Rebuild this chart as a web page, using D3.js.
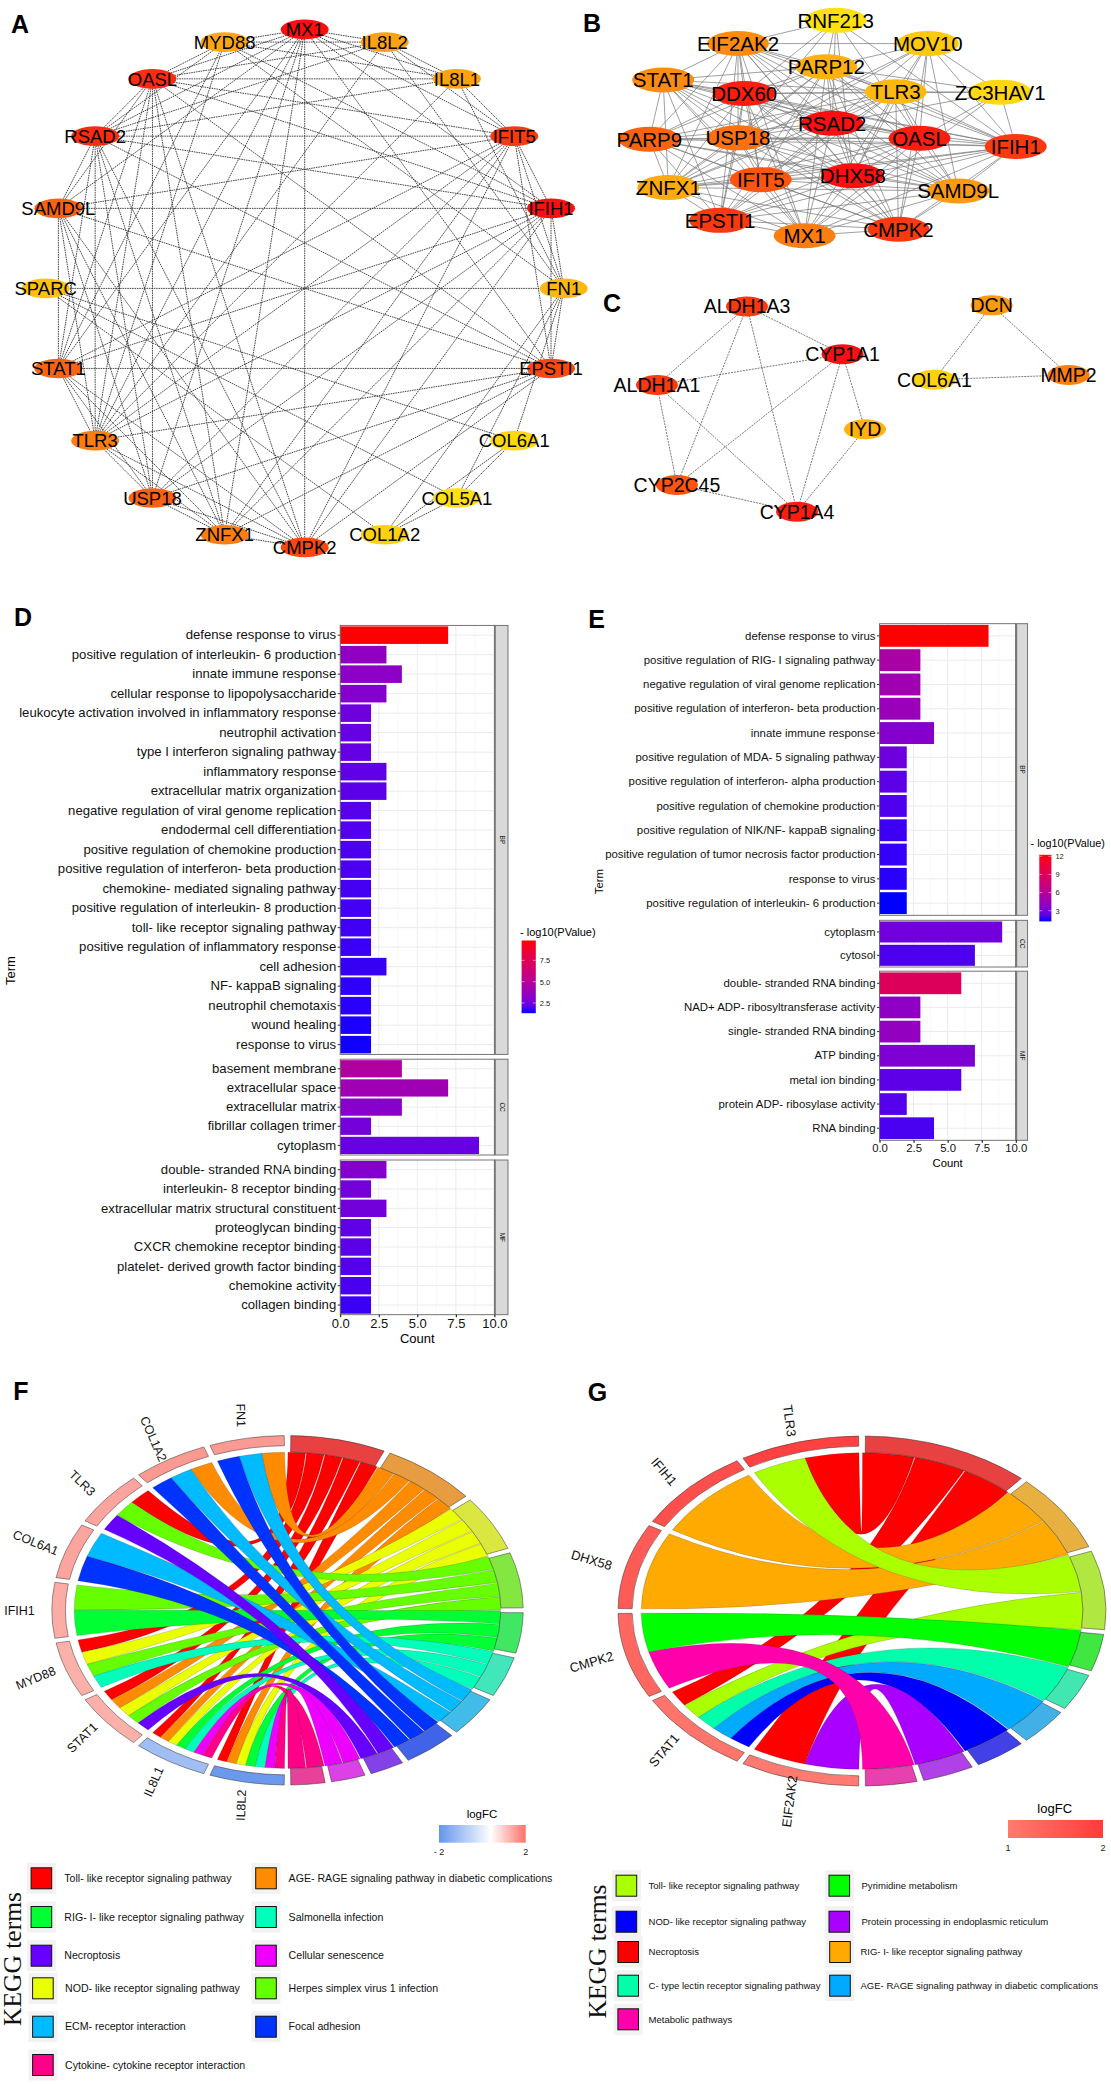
<!DOCTYPE html>
<html>
<head>
<meta charset="utf-8">
<title>Hub genes, GO and KEGG</title>
<script src="https://cdn.jsdelivr.net/npm/d3@7/dist/d3.min.js"></script>
<style>
  body { margin: 0; background: #fff; }
  svg { display: block; font-family: "Liberation Sans", Arial, sans-serif; }
  .ns { vector-effect: non-scaling-stroke; }
</style>
</head>
<body>
<div id="chart"></div>
<script>
// panel A: circle layout, genes clockwise from the top
const aGenes = ["MX1", "IL8L2", "IL8L1", "IFIT5", "IFIH1", "FN1", "EPSTI1", "COL6A1", "COL5A1", "COL1A2",
  "CMPK2", "ZNFX1", "USP18", "TLR3", "STAT1", "SPARC", "SAMD9L", "RSAD2", "OASL", "MYD88"];
const aScore = [1, 0.45, 0.45, 0.85, 1, 0.3, 0.8, 0.1, 0.05, 0.15, 0.8, 0.6, 0.7, 0.6, 0.7, 0.25, 0.7, 0.9, 0.9, 0.42];
const aCore = ["MX1", "IFIT5", "IFIH1", "EPSTI1", "CMPK2", "ZNFX1", "USP18", "TLR3", "STAT1", "SAMD9L", "RSAD2", "OASL"];
const aExtraEdges = [
  ["MYD88", "MX1"], ["MYD88", "IL8L2"], ["MYD88", "IL8L1"], ["MYD88", "OASL"], ["MYD88", "RSAD2"], ["MYD88", "IFIH1"],
  ["MYD88", "STAT1"], ["MYD88", "TLR3"], ["MYD88", "FN1"], ["IL8L2", "MX1"], ["IL8L2", "IL8L1"], ["IL8L2", "OASL"],
  ["IL8L2", "RSAD2"], ["IL8L2", "FN1"], ["IL8L2", "TLR3"], ["IL8L2", "IFIT5"], ["IL8L1", "MX1"], ["IL8L1", "IFIT5"],
  ["IL8L1", "OASL"], ["IL8L1", "RSAD2"], ["IL8L1", "TLR3"], ["IL8L1", "FN1"], ["SPARC", "FN1"], ["SPARC", "COL6A1"],
  ["SPARC", "COL5A1"], ["SPARC", "COL1A2"], ["FN1", "COL6A1"], ["FN1", "COL5A1"], ["FN1", "COL1A2"], ["FN1", "IFIT5"],
  ["FN1", "IFIH1"], ["COL6A1", "COL5A1"], ["COL6A1", "COL1A2"], ["COL5A1", "COL1A2"], ["FN1", "EPSTI1"]
];

// panel B: layout, in layout units
const bGenes = ["RNF213", "EIF2AK2", "MOV10", "PARP12", "STAT1", "TLR3", "ZC3HAV1", "DDX60", "RSAD2", "OASL",
  "IFIH1", "PARP9", "USP18", "IFIT5", "DHX58", "ZNFX1", "SAMD9L", "EPSTI1", "MX1", "CMPK2"];
const bLayoutX = [770, 487, 1037, 743, 270, 944, 1247, 505, 760, 1013, 1292, 230, 487, 553, 820, 285, 1125, 435, 680, 952];
const bLayoutY = [57, 122, 122, 187, 224, 257, 258, 262, 345, 387, 410, 390, 386, 503, 492, 525, 535, 617, 660, 642];
const bScore = [0.05, 0.55, 0.2, 0.35, 0.55, 0.3, 0.1, 0.95, 1, 0.95, 0.85, 0.7, 0.65, 0.75, 1, 0.4, 0.5, 0.85, 0.6, 0.85];
const bCore = ["EIF2AK2", "PARP12", "STAT1", "TLR3", "DDX60", "RSAD2", "OASL", "IFIH1", "PARP9", "USP18", "IFIT5",
  "DHX58", "ZNFX1", "SAMD9L", "EPSTI1", "MX1", "CMPK2"];
const bExtraEdges = [
  ["RNF213", "EIF2AK2"], ["RNF213", "PARP12"], ["RNF213", "DDX60"], ["RNF213", "USP18"], ["RNF213", "RSAD2"],
  ["RNF213", "OASL"], ["RNF213", "IFIH1"], ["RNF213", "DHX58"], ["MOV10", "EIF2AK2"], ["MOV10", "PARP12"],
  ["MOV10", "TLR3"], ["MOV10", "RSAD2"], ["MOV10", "OASL"], ["MOV10", "IFIH1"], ["MOV10", "SAMD9L"], ["MOV10", "ZC3HAV1"],
  ["MOV10", "DHX58"], ["MOV10", "CMPK2"], ["MOV10", "USP18"], ["MOV10", "ZNFX1"], ["ZC3HAV1", "TLR3"], ["ZC3HAV1", "OASL"],
  ["ZC3HAV1", "IFIH1"], ["ZC3HAV1", "RSAD2"], ["ZC3HAV1", "PARP12"], ["ZC3HAV1", "DDX60"], ["ZC3HAV1", "MX1"]
];

// panel C
const cGenes = ["ALDH1A3", "CYP1A1", "ALDH1A1", "IYD", "CYP2C45", "CYP1A4", "DCN", "COL6A1", "MMP2"];
const cLayoutX = [513, 790, 252, 855, 310, 658, 1222, 1056, 1445];
const cLayoutY = [858, 992, 1078, 1202, 1358, 1433, 855, 1063, 1050];
const cScore = [0.85, 1, 0.85, 0.35, 0.75, 0.95, 0.5, 0.15, 0.6];
const cEdges = [
  ["ALDH1A3", "ALDH1A1"], ["ALDH1A3", "CYP1A1"], ["ALDH1A3", "CYP2C45"], ["ALDH1A3", "CYP1A4"], ["ALDH1A1", "CYP1A1"],
  ["ALDH1A1", "CYP2C45"], ["ALDH1A1", "CYP1A4"], ["CYP1A1", "CYP2C45"], ["CYP1A1", "CYP1A4"], ["CYP1A1", "IYD"],
  ["IYD", "CYP1A4"], ["CYP2C45", "CYP1A4"], ["DCN", "COL6A1"], ["DCN", "MMP2"], ["COL6A1", "MMP2"]
];

// panel D: GO terms
const dTermsBP = ["defense response to virus", "positive regulation of interleukin- 6 production", "innate immune response",
  "cellular response to lipopolysaccharide", "leukocyte activation involved in inflammatory response", "neutrophil activation",
  "type I interferon signaling pathway", "inflammatory response", "extracellular matrix organization",
  "negative regulation of viral genome replication", "endodermal cell differentiation", "positive regulation of chemokine production",
  "positive regulation of interferon- beta production", "chemokine- mediated signaling pathway",
  "positive regulation of interleukin- 8 production", "toll- like receptor signaling pathway",
  "positive regulation of inflammatory response", "cell adhesion", "NF- kappaB signaling", "neutrophil chemotaxis",
  "wound healing", "response to virus"];
const dCountBP = [7, 3, 4, 3, 2, 2, 2, 3, 3, 2, 2, 2, 2, 2, 2, 2, 2, 3, 2, 2, 2, 2];
const dLogPBP = [9.83, 3.4, 3.26, 3.0, 2.45, 2.28, 2.24, 2.13, 2.07, 1.98, 1.9, 1.81, 1.8, 1.73, 1.69, 1.66, 1.6, 1.56, 1.49, 1.45, 1.38, 1.34];
const dTermsCC = ["basement membrane", "extracellular space", "extracellular matrix", "fibrillar collagen trimer", "cytoplasm"];
const dCountCC = [4, 7, 4, 2, 9];
const dLogPCC = [4.7, 3.94, 3.1, 2.58, 2.28];
const dTermsMF = ["double- stranded RNA binding", "interleukin- 8 receptor binding", "extracellular matrix structural constituent",
  "proteoglycan binding", "CXCR chemokine receptor binding", "platelet- derived growth factor binding", "chemokine activity", "collagen binding"];
const dCountMF = [3, 2, 3, 2, 2, 2, 2, 2];
const dLogPMF = [3.0, 2.58, 2.54, 2.15, 2.07, 1.94, 1.77, 1.6];

// panel E: GO terms
const eTermsBP = ["defense response to virus", "positive regulation of RIG- I signaling pathway",
  "negative regulation of viral genome replication", "positive regulation of interferon- beta production", "innate immune response",
  "positive regulation of MDA- 5 signaling pathway", "positive regulation of interferon- alpha production",
  "positive regulation of chemokine production", "positive regulation of NIK/NF- kappaB signaling",
  "positive regulation of tumor necrosis factor production", "response to virus", "positive regulation of interleukin- 6 production"];
const eCountBP = [8, 3, 3, 3, 4, 2, 2, 2, 2, 2, 2, 2];
const eLogPBP = [12.25, 5.3, 4.76, 4.4, 3.5, 2.72, 2.25, 2.0, 1.67, 1.56, 1.43, 1.23];
const eTermsCC = ["cytoplasm", "cytosol"];
const eCountCC = [9, 7];
const eLogPCC = [2.8, 1.92];
const eTermsMF = ["double- stranded RNA binding", "NAD+ ADP- ribosyltransferase activity", "single- stranded RNA binding", "ATP binding",
  "metal ion binding", "protein ADP- ribosylase activity", "RNA binding"];
const eCountMF = [6, 3, 3, 7, 6, 2, 4];
const eLogPMF = [8.94, 3.93, 4.1, 3.27, 2.25, 2.11, 1.87];

// panel F: KEGG chord, terms clockwise from the top, genes counter-clockwise from the top
const fTerms = ["Toll- like receptor signaling pathway", "AGE- RAGE signaling pathway in diabetic complications",
  "NOD- like receptor signaling pathway", "Herpes simplex virus 1 infection", "RIG- I- like receptor signaling pathway",
  "Salmonella infection", "ECM- receptor interaction", "Focal adhesion", "Necroptosis", "Cellular senescence",
  "Cytokine- cytokine receptor interaction"];
const fColors = ["#ff0000", "#ff8c00", "#eaff00", "#66ff00", "#00ff33", "#00ffbb", "#00bbff", "#0033ff", "#6600ff", "#ee00ff", "#ff0088"];
const fGenes = ["FN1", "COL1A2", "TLR3", "COL6A1", "IFIH1", "MYD88", "STAT1", "IL8L1", "IL8L2"];
const fLogFC = [1.55, 1.55, 1.43, 1.43, 1.35, 1.3, 1.3, -1.07, -1.9];
const fGeneTerms = [[1, 6, 7], [1, 6, 7], [0, 3, 8], [6, 7], [3, 4], [0, 2, 3, 5], [0, 1, 2, 3, 8],
  [0, 1, 2, 4, 5, 9, 10], [0, 1, 2, 4, 5, 9, 10]];

// panel G: KEGG chord
const gTerms = ["Necroptosis", "RIG- I- like receptor signaling pathway", "Toll- like receptor signaling pathway", "Pyrimidine metabolism",
  "C- type lectin receptor signaling pathway", "AGE- RAGE signaling pathway in diabetic complications",
  "NOD- like receptor signaling pathway", "Protein processing in endoplasmic reticulum", "Metabolic pathways"];
const gColors = ["#ff0000", "#ffaa00", "#aaff00", "#00ff00", "#00ffaa", "#00aaff", "#0000ff", "#aa00ff", "#ff00aa"];
const gGenes = ["TLR3", "IFIH1", "DHX58", "CMPK2", "STAT1", "EIF2AK2"];
const gLogFC = [1.9, 1.7, 1.5, 1.3, 1.1, 1.0];
const gGeneTerms = [[0, 2], [1], [1], [3, 8], [0, 2, 4, 5, 6], [0, 7]];

// legend order of the KEGG terms
const fLegendCol1 = [0, 4, 8, 2, 6, 10];
const fLegendCol2 = [1, 5, 9, 3, 7];
const gLegendCol1 = [2, 6, 0, 4, 8];
const gLegendCol2 = [3, 7, 1, 5];

const width = 1111, height = 2084;
const svg = d3.select("#chart").append("svg").attr("width", width).attr("height", height);

const heat = d3.scaleLinear().domain([0, 0.5, 1]).range(["#ffe810", "#fe9a10", "#fa1010"]);

// every unordered pair of a gene list
function allPairs(list) {
  const out = [];
  list.forEach((a, i) => list.slice(i + 1).forEach((b) => out.push([a, b])));
  return out;
}

function drawNetwork(genes, score, edges, px, py, o) {
  const g = svg.append("g");
  const idx = new Map(genes.map((d, i) => [d, i]));
  g.selectAll("line").data(edges).enter().append("line")
    .attr("x1", (d) => px(idx.get(d[0]))).attr("y1", (d) => py(idx.get(d[0])))
    .attr("x2", (d) => px(idx.get(d[1]))).attr("y2", (d) => py(idx.get(d[1])))
    .attr("stroke", o.edge).attr("stroke-width", o.edgeWidth).attr("stroke-dasharray", o.dash);
  g.selectAll("ellipse").data(genes).enter().append("ellipse")
    .attr("cx", (d, i) => px(i)).attr("cy", (d, i) => py(i))
    .attr("rx", o.rx).attr("ry", o.ry).attr("fill", (d, i) => heat(score[i]));
  g.selectAll("text").data(genes).enter().append("text")
    .attr("x", (d, i) => px(i)).attr("y", (d, i) => py(i)).attr("dy", "0.36em")
    .attr("text-anchor", "middle").attr("font-size", o.font).attr("fill", "#000").text((d) => d);
}

// A
const aAngle = d3.scalePoint().domain(aGenes).range([0, 342]);
const aCx = 304.7, aCy = 288.4, aR = 259;
drawNetwork(aGenes, aScore, allPairs(aCore).concat(aExtraEdges),
  (i) => aCx + aR * Math.sin(aAngle(aGenes[i]) * Math.PI / 180),
  (i) => aCy - aR * Math.cos(aAngle(aGenes[i]) * Math.PI / 180),
  { edge: "#333", edgeWidth: 0.9, dash: "1.6 0.8", rx: 24, ry: 9.8, font: 18.5 });

// B and C share one layout scale
const netX = d3.scaleLinear().domain([0, 1568]).range([570, 1111]);
const netY = d3.scaleLinear().domain([0, 1568]).range([0, 560]);
drawNetwork(bGenes, bScore, allPairs(bCore).concat(bExtraEdges),
  (i) => netX(bLayoutX[i]), (i) => netY(bLayoutY[i]),
  { edge: "#777", edgeWidth: 0.7, dash: null, rx: 31, ry: 12.5, font: 20.5 });
drawNetwork(cGenes, cScore, cEdges,
  (i) => netX(cLayoutX[i]), (i) => netY(cLayoutY[i]),
  { edge: "#555", edgeWidth: 0.8, dash: "2 1", rx: 21, ry: 10, font: 19.5 });

// ggplot style faceted bars, gradient runs through Lab like scale_fill_gradient
function drawBars(facets, o) {
  const g = svg.append("g");
  const x = d3.scaleLinear().domain([0, 10]).range([o.x0, o.x10]);
  const color = d3.scaleLinear().domain(o.logpDomain).range(["#0000ff", "#ff0000"]).interpolate(d3.interpolateLab);
  facets.forEach((f) => {
    const y = d3.scaleBand().domain(f.terms).range([f.top, f.bottom]).paddingInner(0.1).paddingOuter(0.05);
    const p = g.append("g");
    // grid
    p.selectAll(".minor").data(d3.range(1.25, 10, 2.5)).enter().append("line")
      .attr("x1", x).attr("x2", x).attr("y1", f.top).attr("y2", f.bottom).attr("stroke", "#f4f4f4").attr("stroke-width", 0.6);
    p.selectAll(".major").data(d3.range(2.5, 10, 2.5)).enter().append("line")
      .attr("x1", x).attr("x2", x).attr("y1", f.top).attr("y2", f.bottom).attr("stroke", "#ebebeb").attr("stroke-width", 1);
    p.selectAll(".hgrid").data(f.terms).enter().append("line")
      .attr("x1", o.x0).attr("x2", o.x10).attr("y1", (d) => y(d) + y.bandwidth() / 2).attr("y2", (d) => y(d) + y.bandwidth() / 2)
      .attr("stroke", "#ebebeb").attr("stroke-width", 1);
    // bars
    p.selectAll("rect.bar").data(f.terms).enter().append("rect").attr("class", "bar")
      .attr("x", x(0)).attr("y", (d) => y(d)).attr("height", y.bandwidth())
      .attr("width", (d, i) => x(f.count[i]) - x(0)).attr("fill", (d, i) => color(f.logp[i]));
    // panel border and strip
    p.append("rect").attr("x", o.x0).attr("y", f.top).attr("width", o.x10 - o.x0).attr("height", f.bottom - f.top)
      .attr("fill", "none").attr("stroke", "#666").attr("stroke-width", 0.9);
    p.append("rect").attr("x", o.x10).attr("y", f.top).attr("width", o.stripRight - o.x10).attr("height", f.bottom - f.top)
      .attr("fill", "#d9d9d9").attr("stroke", "#666").attr("stroke-width", 0.9);
    p.append("line").attr("x1", o.x10 + 0.6).attr("x2", o.x10 + 0.6).attr("y1", f.top).attr("y2", f.bottom)
      .attr("stroke", "#777").attr("stroke-width", 1.6);
    p.append("text").attr("transform", `translate(${(o.x10 + o.stripRight) / 2 + 1},${(f.top + f.bottom) / 2}) rotate(90)`)
      .attr("text-anchor", "middle").attr("dy", "0.35em").attr("font-size", 6.5).attr("fill", "#222").text(f.name);
    // term axis
    const ay = p.append("g").attr("transform", `translate(${o.x0},0)`).call(d3.axisLeft(y).tickSize(2.5).tickPadding(1.5));
    ay.select(".domain").remove();
    ay.selectAll("text").attr("font-size", o.font).attr("fill", "#111").attr("font-family", "Liberation Sans");
    ay.selectAll("line").attr("stroke", "#333");
  });
  // count axis
  const last = facets[facets.length - 1];
  const ax = g.append("g").attr("transform", `translate(0,${last.bottom})`)
    .call(d3.axisBottom(x).tickValues([0, 2.5, 5, 7.5, 10]).tickFormat(d3.format(".1f")).tickSize(2.5).tickPadding(1.5));
  ax.select(".domain").remove();
  ax.selectAll("text").attr("font-size", o.axisFont).attr("fill", "#111").attr("font-family", "Liberation Sans");
  g.append("text").attr("x", x(5)).attr("y", o.countY).attr("text-anchor", "middle").attr("font-size", o.axisFont).text("Count");
  g.append("text").attr("transform", `translate(${o.termX},${o.termY}) rotate(-90)`).attr("text-anchor", "middle")
    .attr("font-size", o.axisFont).text("Term");

  // colour bar
  const gradId = "grad" + o.id;
  const grad = svg.append("defs").append("linearGradient").attr("id", gradId).attr("x1", 0).attr("x2", 0).attr("y1", 1).attr("y2", 0);
  d3.range(0, 1.01, 0.1).forEach((t) => {
    grad.append("stop").attr("offset", t).attr("stop-color", d3.interpolateLab("#0000ff", "#ff0000")(t));
  });
  const l = o.legend;
  g.append("rect").attr("x", l.x).attr("y", l.top).attr("width", l.w).attr("height", l.bottom - l.top).attr("fill", `url(#${gradId})`);
  const ls = d3.scaleLinear().domain(o.logpDomain).range([l.bottom, l.top]);
  const la = g.append("g").attr("transform", `translate(${l.x + l.w},0)`)
    .call(d3.axisRight(ls).tickValues(l.ticks).tickFormat(l.format).tickSize(0).tickPadding(4));
  la.select(".domain").remove();
  la.selectAll("text").attr("font-size", 7.5).attr("fill", "#222").attr("font-family", "Liberation Sans");
  g.selectAll(".ltick").data(l.ticks).enter().append("line").attr("x1", l.x).attr("x2", l.x + 3)
    .attr("y1", ls).attr("y2", ls).attr("stroke", "#fff").attr("stroke-width", 0.5);
  g.selectAll(".ltick2").data(l.ticks).enter().append("line").attr("x1", l.x + l.w - 3).attr("x2", l.x + l.w)
    .attr("y1", ls).attr("y2", ls).attr("stroke", "#fff").attr("stroke-width", 0.5);
  g.append("text").attr("x", l.titleX).attr("y", l.titleY).attr("font-size", o.legendFont).attr("dy", "0.35em").text("- log10(PValue)");
}

drawBars([
  { name: "BP", terms: dTermsBP, count: dCountBP, logp: dLogPBP, top: 625.4, bottom: 1054.4 },
  { name: "CC", terms: dTermsCC, count: dCountCC, logp: dLogPCC, top: 1059.2, bottom: 1155 },
  { name: "MF", terms: dTermsMF, count: dCountMF, logp: dLogPMF, top: 1160, bottom: 1314.7 }
], {
  id: "D", x0: 340.2, x10: 494.4, stripRight: 508, font: 13.15, axisFont: 13, countY: 1343, termX: 15, termY: 970.5,
  logpDomain: [1.3, 9.83], legendFont: 11,
  legend: { x: 521.6, w: 14.2, top: 940.5, bottom: 1013.2, ticks: [2.5, 5, 7.5], format: d3.format(".1f"), titleX: 520, titleY: 931.7 }
});

drawBars([
  { name: "BP", terms: eTermsBP, count: eCountBP, logp: eLogPBP, top: 623.7, bottom: 915.3 },
  { name: "CC", terms: eTermsCC, count: eCountCC, logp: eLogPCC, top: 920.3, bottom: 967 },
  { name: "MF", terms: eTermsMF, count: eCountMF, logp: eLogPMF, top: 971.2, bottom: 1140.3 }
], {
  id: "E", x0: 879.5, x10: 1015.8, stripRight: 1027.6, font: 11.4, axisFont: 11.3, countY: 1167, termX: 603, termY: 881.6,
  logpDomain: [1.23, 12.25], legendFont: 10.8,
  legend: { x: 1039.3, w: 12.1, top: 854.8, bottom: 921.4, ticks: [3, 6, 9, 12], format: d3.format("d"), titleX: 1030.6, titleY: 843.7 }
});

// GOChord style diagram: ellipse made by scaling unit-radius d3.arc and d3.ribbon
function drawChord(terms, colors, genes, logFC, geneTerms, lfcColor, o) {
  const g = svg.append("g").attr("transform", `translate(${o.cx},${o.cy}) scale(${o.rx},${o.ry})`);
  const deg = Math.PI / 180;
  const total = d3.sum(geneTerms, (d) => d.length);
  const unit = 180 / total;
  const geneW = 180 / genes.length;

  // term slots go clockwise, filled in gene order so ribbons of a term never cross
  let acc = 0;
  const termStart = terms.map((t, ti) => {
    const s = acc;
    acc += d3.sum(geneTerms, (list) => (list.includes(ti) ? 1 : 0)) * unit;
    return s;
  });
  const used = terms.map(() => 0);
  const links = [];
  geneTerms.forEach((list, gi) => {
    const a0 = -gi * geneW - o.padGene, w = (geneW - 2 * o.padGene) / list.length;
    list.forEach((ti, k) => {
      const t0 = termStart[ti] + used[ti] * unit;
      used[ti] += 1;
      links.push({
        term: ti,
        source: { startAngle: (a0 - (k + 1) * w) * deg, endAngle: (a0 - k * w) * deg },
        target: { startAngle: (t0 + o.padTerm / 2) * deg, endAngle: (t0 + unit - o.padTerm / 2) * deg }
      });
    });
  });
  links.sort((a, b) => a.term - b.term);

  const ribbon = d3.ribbon().radius(o.ribbonR);
  g.selectAll("path.link").data(links).enter().append("path").attr("class", "link ns")
    .attr("d", ribbon).attr("fill", (d) => colors[d.term]).attr("stroke", "#222").attr("stroke-opacity", 0.45).attr("stroke-width", 0.4);

  // gene ring
  const geneArc = d3.arc().innerRadius(0.942).outerRadius(1);
  g.selectAll("path.gene").data(genes).enter().append("path").attr("class", "gene ns")
    .attr("d", (d, i) => geneArc({ startAngle: (-(i + 1) * geneW + o.ringPad) * deg, endAngle: (-i * geneW - o.ringPad) * deg }))
    .attr("fill", (d, i) => lfcColor(logFC[i])).attr("stroke", "#333").attr("stroke-width", 0.5);

  // term ring
  const termArc = d3.arc().innerRadius(o.ribbonR).outerRadius(1);
  g.selectAll("path.term").data(terms).enter().append("path").attr("class", "term ns")
    .attr("d", (d, i) => termArc({
      startAngle: (termStart[i] + o.ringPad) * deg,
      endAngle: ((i + 1 < terms.length ? termStart[i + 1] : 180) - o.ringPad) * deg
    }))
    .attr("fill", (d, i) => d3.interpolateRgb(colors[i], "#bbbbbb")(0.35)).attr("stroke", "#333").attr("stroke-width", 0.5);

  // gene labels sit outside the ellipse, turned a bit more than the angle
  svg.append("g").selectAll("text").data(genes).enter().append("text")
    .attr("transform", (d, i) => {
      const th = (i + 0.5) * geneW;
      const lx = o.cx - o.labelRx * Math.sin(th * deg), ly = o.cy - o.labelRy * Math.cos(th * deg);
      return `translate(${lx},${ly}) rotate(${(90 - th) * 1.1})`;
    })
    .attr("text-anchor", "middle").attr("dy", "0.35em").attr("font-size", o.labelFont).attr("fill", "#111").text((d) => d);
}

const fLfc = d3.scaleLinear().domain([-2, 0.4, 2]).range(["#6495ed", "#ffffff", "#fa7268"]);
drawChord(fTerms, fColors, fGenes, fLogFC, fGeneTerms, fLfc,
  { cx: 287.5, cy: 1610.3, rx: 235.7, ry: 174.7, ribbonR: 0.905, padGene: 0.8, padTerm: 0.25, ringPad: 0.8, labelRx: 268, labelRy: 198, labelFont: 12.5 });

const gLfc = d3.scaleLinear().domain([1, 2]).range(["#ff7a70", "#ff3c3c"]);
drawChord(gTerms, gColors, gGenes, gLogFC, gGeneTerms, gLfc,
  { cx: 862, cy: 1611, rx: 244, ry: 175, ribbonR: 0.905, padGene: 0.8, padTerm: 0.25, ringPad: 0.8, labelRx: 280, labelRy: 197, labelFont: 13 });

// logFC colour bars
function drawLfcBar(id, scale, o) {
  const grad = svg.append("defs").append("linearGradient").attr("id", id);
  const x = d3.scaleLinear().domain(o.domain).range([o.x0, o.x1]);
  d3.range(0, 1.01, 0.05).forEach((t) => {
    grad.append("stop").attr("offset", t).attr("stop-color", scale(o.domain[0] + t * (o.domain[1] - o.domain[0])));
  });
  svg.append("rect").attr("x", o.x0).attr("y", o.top).attr("width", o.x1 - o.x0).attr("height", o.h).attr("fill", `url(#${id})`);
  svg.append("text").attr("x", o.titleX).attr("y", o.titleY).attr("dy", "0.35em").attr("text-anchor", "middle").attr("font-size", o.titleFont).text("logFC");
  svg.append("g").selectAll("text").data(o.domain).enter().append("text")
    .attr("x", x).attr("y", o.labelY).attr("dy", "0.35em").attr("text-anchor", "middle").attr("font-size", 9).attr("fill", "#222")
    .text((d) => (d < 0 ? "- " + Math.abs(d) : d));
}
drawLfcBar("lfcF", fLfc, { domain: [-2, 2], x0: 439, x1: 525.7, top: 1825, h: 17.7, titleX: 482, titleY: 1814, titleFont: 11.5, labelY: 1851.7 });
drawLfcBar("lfcG", gLfc, { domain: [1, 2], x0: 1008, x1: 1103, top: 1820, h: 18, titleX: 1054.7, titleY: 1808, titleFont: 13, labelY: 1848 });

// KEGG legends
function drawKegg(col, terms, colors, rowY, o) {
  const g = svg.append("g");
  const keys = g.selectAll("g").data(col).enter().append("g")
    .attr("transform", (d, i) => `translate(${o.keyX(i)},${rowY[i]})`);
  keys.append("rect").attr("x", -14.5).attr("y", -15.5).attr("width", 29).attr("height", 31).attr("fill", "#f2f2f2");
  keys.append("rect").attr("x", -10.3).attr("y", -10.5).attr("width", 20.6).attr("height", 21)
    .attr("fill", (d) => colors[d]).attr("stroke", "#111").attr("stroke-width", 1);
  g.selectAll("text").data(col).enter().append("text")
    .attr("x", (d, i) => o.textX(i)).attr("y", (d, i) => rowY[i]).attr("dy", "0.35em")
    .attr("font-size", o.font).attr("fill", "#111").text((d) => terms[d]);
}
const fRows = [1878.3, 1917, 1955.7, 1988.3, 2026.7, 2065];
drawKegg(fLegendCol1, fTerms, fColors, fRows, { keyX: (i) => (i < 3 ? 41.4 : 42.9), textX: (i) => (i < 3 ? 64.3 : 65), font: 10.6 });
drawKegg(fLegendCol2, fTerms, fColors, fRows, { keyX: () => 266, textX: () => 288.6, font: 10.6 });
const gRows = [1885.7, 1921.7, 1952, 1985.7, 2019.3];
drawKegg(gLegendCol1, gTerms, gColors, gRows, { keyX: (i) => (i < 2 ? 626.4 : 628.2), textX: () => 648.5, font: 9.55 });
drawKegg(gLegendCol2, gTerms, gColors, gRows, { keyX: (i) => (i < 2 ? 839.3 : 840), textX: (i) => (i < 2 ? 861.5 : 860.4), font: 9.55 });

[[13.5, 1959], [598.6, 1951.5]].forEach((p) => {
  svg.append("text").attr("transform", `translate(${p[0]},${p[1]}) rotate(-90)`).attr("dy", "0.3em")
    .attr("text-anchor", "middle").attr("font-family", "Liberation Serif").attr("font-size", 25.5).attr("fill", "#111").text("KEGG terms");
});

// panel letters
const panelLetters = ["A", "B", "C", "D", "E", "F", "G"];
const letterX = [20, 592, 612, 23, 596.6, 21, 597.6];
const letterY = [24, 23, 303, 617, 619, 1391, 1392];
svg.append("g").selectAll("text").data(panelLetters).enter().append("text")
  .attr("x", (d, i) => letterX[i]).attr("y", (d, i) => letterY[i]).attr("dy", "0.36em")
  .attr("text-anchor", "middle").attr("font-weight", "bold").attr("font-size", 25).attr("fill", "#000").text((d) => d);
</script>
</body>
</html>
